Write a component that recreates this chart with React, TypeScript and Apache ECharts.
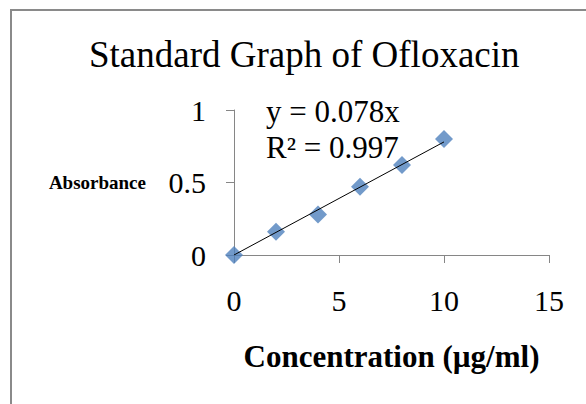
import React, { useEffect, useRef } from "react";
import * as echarts from "echarts";

const concentrations = [0, 2, 4, 6, 8, 10];
const absorbances = [0, 0.16, 0.28, 0.47, 0.62, 0.8];
const trendSlope = 0.078;
const trendRange = [0, 10];
const titleText = "Standard Graph of Ofloxacin";
const equationLines = ["y = 0.078x", "R² = 0.997"];
const xName = "Concentration (µg/ml)";
const yName = "Absorbance";

const SERIF = "'Liberation Serif', 'Times New Roman', serif";

export default function App() {
  const ref = useRef<HTMLDivElement>(null);
  useEffect(() => {
    if (!ref.current) return;
    const chart = echarts.init(ref.current, null, { renderer: "svg" });
    const points = concentrations.map((c, i) => [c, absorbances[i]]);
    const trend = trendRange.map((x) => [x, trendSlope * x]);
    chart.setOption({
      animation: false,
      backgroundColor: "#ffffff",
      title: {
        text: titleText,
        left: 84,
        top: 31,
        textStyle: { fontFamily: SERIF, fontSize: 37, fontWeight: "normal", color: "#000" },
      },
      grid: { left: 234, top: 110, width: 315, height: 145, containLabel: false },
      xAxis: {
        type: "value",
        min: 0,
        max: 15,
        interval: 5,
        name: xName,
        nameLocation: "middle",
        nameGap: 86,
        nameTextStyle: { fontFamily: SERIF, fontSize: 31, fontWeight: "bold", color: "#000" },
        axisLine: { show: true, lineStyle: { color: "#868686", width: 1 } },
        axisTick: { show: true, inside: false, length: 8, lineStyle: { color: "#868686" } },
        axisLabel: { fontFamily: SERIF, fontSize: 30, color: "#000", margin: 30 },
        splitLine: { show: false },
      },
      yAxis: {
        type: "value",
        min: 0,
        max: 1,
        interval: 0.5,
        name: yName,
        nameLocation: "middle",
        nameRotate: 0,
        nameGap: 88,
        nameTextStyle: { fontFamily: SERIF, fontSize: 19, fontWeight: "bold", color: "#000" },
        axisLine: { show: true, lineStyle: { color: "#868686", width: 1 } },
        axisTick: { show: true, inside: false, length: 8, lineStyle: { color: "#868686" } },
        axisLabel: { fontFamily: SERIF, fontSize: 30, color: "#000", margin: 28 },
        splitLine: { show: false },
      },
      graphic: [
        {
          type: "rect",
          shape: { x: 11, y: 10, width: 700, height: 500 },
          style: { fill: "none", stroke: "#8a8a8a", lineWidth: 2 },
          silent: true,
        },
        {
          type: "text",
          left: 266,
          top: 93,
          style: {
            text: equationLines.join("\n"),
            fontFamily: SERIF,
            fontSize: 31,
            lineHeight: 36,
            fill: "#000",
          },
        },
      ],
      series: [
        {
          type: "scatter",
          data: points,
          symbol: "diamond",
          symbolSize: 18,
          itemStyle: { color: "#4F81BD" },
          z: 2,
        },
        {
          type: "line",
          data: trend,
          showSymbol: false,
          symbol: "none",
          lineStyle: { color: "#000", width: 1 },
          z: 3,
        },
      ],
    });
    return () => chart.dispose();
  }, []);
  return (
    <div
      ref={ref}
      style={{ position: "absolute", left: 0, top: 0, width: 586, height: 404 }}
    />
  );
}
